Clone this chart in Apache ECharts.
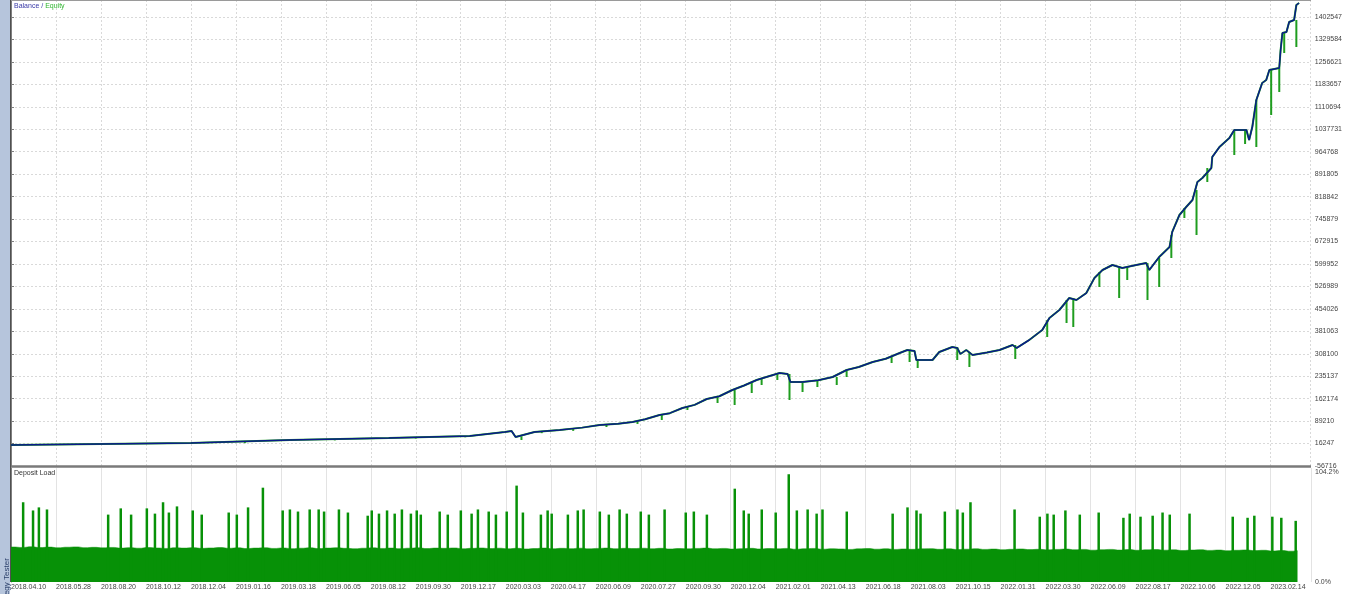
<!DOCTYPE html>
<html>
<head>
<meta charset="utf-8">
<script src="https://cdn.jsdelivr.net/npm/echarts@6/dist/echarts.min.js"></script>
<style>
html,body{margin:0;padding:0;background:#fff;}
#chart{width:1345px;height:594px;}
</style>
</head>
<body>
<div id="chart"></div>
<script>
// ---- DATA ----
const xLabels = ['2018.04.10','2018.05.28','2018.08.20','2018.10.12','2018.12.04','2019.01.16','2019.03.18','2019.06.05','2019.08.12','2019.09.30','2019.12.17','2020.03.03','2020.04.17','2020.06.09','2020.07.27','2020.09.30','2020.12.04','2021.02.01','2021.04.13','2021.06.18','2021.08.03','2021.10.15','2022.01.31','2022.03.30','2022.06.09','2022.08.17','2022.10.06','2022.12.05','2023.02.14'];

const yTickLabels = ['-56716','16247','89210','162174','235137','308100','381063','454026','526989','599952','672915','745879','818842','891805','964768','1037731','1110694','1183657','1256621','1329584','1402547'];

const loadTickLabels = ['0.0%','104.2%'];

// balance: [trade #, balance]
const balance = [
[0,11500],[20,14800],[40,18000],[62,27800],[84,34300],[102,40800],[109.8,53800],[111.3,57000],[112.2,37500],[116.4,53800],[122,60300],
[127,68000],[130.9,76500],[135,80500],[138.2,86300],[141,95000],[144.2,109000],[146.5,115000],[149.3,131800],[152,142000],[154.7,161000],
[157.5,170000],[160.4,190300],[163,205000],[165.8,222800],[168.5,235000],[170.9,245500],[172.7,242300],[173.3,216300],
[176,216300],[179.5,222000],[182.7,232500],[185.8,255300],[188.5,265000],[191.6,281300],[194.5,292000],[197.6,310500],[199.3,320300],[200.9,317000],[201.3,287800],[204.9,287800],[206.4,313800],
[209.3,330000],[210.4,326800],[211.1,307300],[212.4,320300],[213.8,304000],[217,312000],[219.8,320300],[222.7,336500],[223.6,326800],[226.4,352800],[229.3,385300],
[230.9,424300],[233.1,450300],[235.3,489300],[236.9,482800],[239.1,505500],[240.9,554300],[242.7,580300],[244.9,596500],[247.1,586800],[250.2,596500],
[252.4,603000],[253.1,580300],[255.3,622500],[257.6,655000],[258.2,704000],[259.8,759000],[261.3,785000],[262.7,807800],[263.8,866300],[264.9,879300],
[266.9,911800],[267.1,947500],[268.7,980000],[270.9,1009300],[272,1035300],[274.7,1035300],[275.3,1002800],[276,1045000],[276.9,1132800],[278.2,1188000],
[279.1,1197800],[279.8,1230300],[282,1236800],[282.3,1295300],[282.7,1350500],[283.6,1353800],[284.2,1386300],[285.3,1392800],[285.8,1441500],[286.4,1448000]
];

// equity drawdowns: [trade #, equity top, equity low]
const equityDips = [
[52,22000,17500],[72,30500,26500],[90,36000,32500],[101,40500,36500],[118,56000,50000],[125,63500,57500],
[113.5,40000,27800],[132.4,76500,70000],[139.3,89500,80000],[144.7,112300,92800],[150.4,138300,125300],[157.1,170800,148000],
[160.9,190300,141500],[164.7,216300,180500],[166.9,226000,206500],[170.4,245500,222800],[173.1,242300,157800],[176,216300,183800],
[179.3,219500,200000],[183.6,232500,206500],[185.8,255300,232500],[195.8,300800,278000],[199.8,320300,281300],[201.6,287800,261800],
[210.4,330000,287800],[213.1,313800,265000],[223.3,336500,291000],[230.4,417800,362500],[234.7,482800,408000],[236.2,489300,395000],
[242,573800,525000],[246.4,593300,489300],[248.2,590000,547800],[252.7,603000,482800],[255.3,619300,525000],[258,694000,619300],
[260.9,781800,749300],[263.6,840300,694000],[266,911800,866300],[272,1035300,954000],[274.4,1035300,989800],[276.9,1132800,980000],
[280.2,1230300,1084000],[282,1236800,1158800],[283.1,1350500,1285500],[285.8,1392800,1305000]
];

// deposit load base level (every 2 trades)
const baseLoad = [
32.0,31.6,32.2,31.5,31.9,31.3,31.8,32.1,31.4,31.7,
31.2,31.6,31.0,31.4,30.9,31.5,31.1,30.7,31.3,31.0,
31.4,30.8,31.1,31.5,30.9,31.2,30.6,31.0,31.3,30.7,
31.1,30.5,30.9,31.2,30.6,31.0,31.3,30.8,30.4,30.9,
31.2,30.7,31.0,30.5,30.9,31.2,30.6,31.0,30.8,31.1,
30.4,30.8,31.1,30.6,30.9,30.4,30.8,30.2,30.6,31.0,
30.4,30.8,30.5,30.9,30.3,30.7,31.0,30.4,30.8,30.6,
30.9,30.4,30.8,30.2,30.6,30.3,30.7,31.0,30.4,30.7,
30.1,30.5,30.8,30.2,30.6,30.3,30.7,30.0,30.4,30.7,
30.0,30.4,30.2,29.8,30.3,30.6,30.0,30.4,29.8,30.2,
29.9,30.3,30.5,29.9,30.3,29.7,30.0,30.4,29.8,30.1,
29.5,29.9,30.2,29.6,29.9,29.4,29.8,30.1,29.5,29.8,
29.1,29.5,29.8,29.2,29.6,29.0,29.4,29.7,29.1,29.4,
28.8,29.2,29.5,28.9,29.2,28.6,29.0,29.3,28.7,29.0,
28.4,28.8,28.2,28.6
];

// deposit load spikes: [trade #, load %]
const loadSpikes = [
[2.7,72.9],[4.9,65.4],[6.2,68.2],[8.0,66.3],[21.6,61.6],[24.4,67.3],[26.7,61.6],[30.2,67.3],[32.0,62.5],[33.8,72.9],
[35.1,63.5],[36.9,69.1],[40.4,65.4],[42.4,61.6],[48.4,63.5],[50.2,61.6],[52.7,68.2],[56.0,86.2],[60.4,65.4],[62.0,66.3],
[63.8,64.4],[66.4,66.3],[68.4,66.3],[69.6,64.4],[72.9,66.3],[74.9,63.5],[79.3,60.6],[80.2,65.4],[81.8,62.5],[83.6,65.4],
[85.3,62.5],[86.9,66.3],[88.9,62.5],[90.2,65.4],[91.1,61.6],[95.3,64.4],[97.1,61.6],[100.0,65.4],[102.4,62.5],[103.8,66.3],
[106.2,64.4],[107.8,61.6],[110.2,64.4],[112.4,88.1],[113.8,63.5],[117.8,61.6],[119.3,65.4],[120.2,62.5],[123.8,61.6],[126.0,65.4],
[127.3,66.3],[130.9,64.4],[132.9,61.6],[135.3,66.3],[136.9,62.5],[140.0,64.4],[141.8,61.6],[145.3,66.3],[150.0,63.5],[151.8,64.4],
[154.7,61.6],[160.9,85.3],[162.9,65.4],[164.0,62.5],[166.9,66.3],[170.0,63.5],[172.9,98.5],[174.7,65.4],[177.1,66.3],[179.1,62.5],
[180.4,66.3],[185.8,64.4],[196.0,62.5],[199.3,68.2],[201.3,65.4],[202.2,62.5],[207.6,64.4],[210.4,66.3],[211.6,63.5],[213.3,72.9],
[223.1,66.3],[228.7,59.7],[230.4,62.5],[231.8,61.6],[234.4,65.4],[237.6,61.6],[241.8,63.5],[247.3,58.7],[248.7,62.5],[251.1,59.7],
[253.8,60.6],[256.0,63.5],[257.6,61.6],[262.0,62.5],[271.6,59.7],[274.9,58.7],[276.4,60.6],[280.4,59.7],[282.4,58.7],[285.6,55.9]
];

// ---- CHART ----
const Y0 = -56716, YSTEP = 72963.15;
const BLUE = '#0a1a8a', GREEN = '#1f9d1f', LOADGREEN = '#079107';
const FONT = 'Liberation Sans';

const chart = echarts.init(document.getElementById('chart'), null, {renderer: 'canvas'});

const option = {
  animation: false,
  backgroundColor: '#ffffff',
  textStyle: {fontFamily: FONT},
  grid: [
    {left: 11, right: 34, top: 0, bottom: 128},
    {left: 11, right: 34, top: 468, bottom: 12}
  ],
  xAxis: [
    {
      type: 'value', gridIndex: 0, min: 0, max: 289, interval: 10,
      axisLine: {show: false}, axisTick: {show: false}, axisLabel: {show: false},
      splitLine: {show: true, lineStyle: {color: '#d9d9d9', type: [2, 2], width: 1}}
    },
    {
      type: 'value', gridIndex: 1, min: 0, max: 289, interval: 10,
      axisLine: {show: false}, axisTick: {show: false},
      axisLabel: {
        show: true, fontSize: 7, color: '#444', fontFamily: FONT, align: 'left', margin: 2,
        showMaxLabel: false, showMinLabel: true,
        formatter: v => { const k = Math.round(v / 10); return xLabels[k] || ''; }
      },
      splitLine: {show: true, lineStyle: {color: '#e3e3e3', width: 1}}
    }
  ],
  yAxis: [
    {
      type: 'value', gridIndex: 0, position: 'right',
      min: Y0, max: 1457800, interval: YSTEP,
      axisLine: {show: true, lineStyle: {color: '#7f7f7f', width: 1}},
      axisTick: {show: true, length: 3, lineStyle: {color: '#7f7f7f'}},
      axisLabel: {
        fontSize: 7, color: '#444', fontFamily: FONT, margin: 4,
        showMaxLabel: false, showMinLabel: true,
        formatter: v => { const k = Math.round((v - Y0) / YSTEP); return yTickLabels[k] || ''; }
      },
      splitLine: {show: true, lineStyle: {color: '#d9d9d9', type: [2, 2], width: 1}}
    },
    {
      type: 'value', gridIndex: 1, position: 'right',
      min: 0, max: 104.2, interval: 104.2,
      axisLine: {show: true, lineStyle: {color: '#7f7f7f', width: 1}},
      axisTick: {show: false},
      axisLabel: {
        fontSize: 7, color: '#444', fontFamily: FONT, margin: 4,
        showMaxLabel: true, showMinLabel: true,
        formatter: v => v < 1 ? loadTickLabels[0] : '{t|' + loadTickLabels[1] + '}',
        rich: {t: {fontSize: 7, color: '#444', fontFamily: FONT, padding: [8, 0, 0, 0]}}
      },
      splitLine: {show: false}
    }
  ],
  series: [
    {
      name: 'EquityLine', type: 'line', xAxisIndex: 0, yAxisIndex: 0,
      data: balance, symbol: 'none',
      lineStyle: {color: GREEN, width: 2.0}, z: 2
    },
    {
      name: 'EquityDips', type: 'custom', xAxisIndex: 0, yAxisIndex: 0,
      data: equityDips, encode: {x: 0, y: [1, 2]}, z: 3,
      renderItem: (params, api) => {
        const p1 = api.coord([api.value(0), api.value(1)]);
        const p2 = api.coord([api.value(0), api.value(2)]);
        return {type: 'line', shape: {x1: p1[0], y1: p1[1], x2: p2[0], y2: p2[1]},
                style: {stroke: GREEN, lineWidth: 2}};
      }
    },
    {
      name: 'Balance', type: 'line', xAxisIndex: 0, yAxisIndex: 0,
      data: balance, symbol: 'none',
      lineStyle: {color: BLUE, width: 1.5}, z: 4
    },
    {
      name: 'LoadBase', type: 'line', xAxisIndex: 1, yAxisIndex: 1,
      data: baseLoad.map((v, i) => [i * 2, v]), step: 'middle', symbol: 'none',
      lineStyle: {width: 0.5, color: LOADGREEN}, areaStyle: {color: LOADGREEN, opacity: 1}, z: 2
    },
    {
      name: 'LoadSpikes', type: 'bar', xAxisIndex: 1, yAxisIndex: 1,
      data: loadSpikes, barWidth: 2.5, itemStyle: {color: LOADGREEN}, z: 3
    }
  ],
  graphic: [
    {type: 'rect', left: 0, top: 0, shape: {width: 10, height: 594}, style: {fill: '#b6c5dc'}, z: 10},
    {type: 'line', shape: {x1: 10.5, y1: 0, x2: 10.5, y2: 582}, style: {stroke: '#505050', lineWidth: 1}, z: 11},
    {type: 'line', shape: {x1: 11, y1: 0.5, x2: 1311, y2: 0.5}, style: {stroke: '#9a9a9a', lineWidth: 1}, z: 11},
    {type: 'line', shape: {x1: 11, y1: 466.5, x2: 1311, y2: 466.5}, style: {stroke: '#7a7a7a', lineWidth: 2.5}, z: 11},
    {type: 'text', x: 7, y: 612, rotation: Math.PI / 2,
     style: {text: 'Strategy Tester', fontSize: 8, fontFamily: FONT, fill: '#2a3f6a', align: 'left', verticalAlign: 'middle'}, z: 12},
    {type: 'text', x: 14, y: 3,
     style: {text: '{b|Balance} {s|/} {e|Equity}', fontSize: 7, fontFamily: FONT,
       rich: {b: {fill: '#3a3aa8', fontSize: 7, fontFamily: FONT}, s: {fill: '#3a3aa8', fontSize: 7, fontFamily: FONT}, e: {fill: '#2fb52f', fontSize: 7, fontFamily: FONT}}}, z: 12},
    {type: 'text', x: 14, y: 470,
     style: {text: 'Deposit Load', fontSize: 7, fontFamily: FONT, fill: '#333'}, z: 12}
  ]
};
chart.setOption(option);
</script>
</body>
</html>
